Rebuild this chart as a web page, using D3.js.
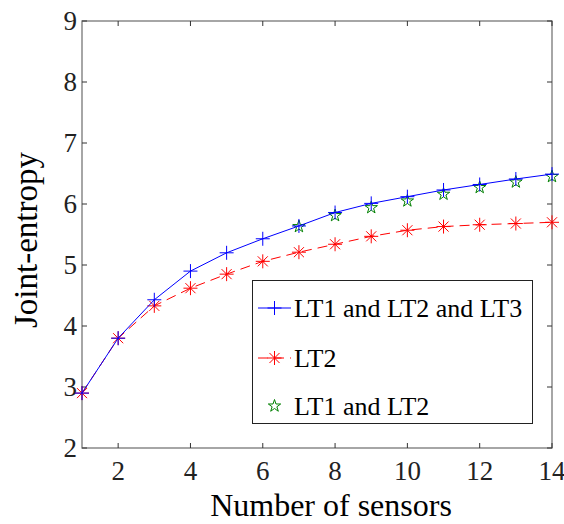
<!DOCTYPE html>
<meta charset="utf-8">
<script src="https://d3js.org/d3.v7.min.js"></script>
<style>
  body { margin: 0; background: #fff; }
  text { font-family: "Liberation Serif", "Times New Roman", serif; fill: #000; }
</style>
<svg id="chart" width="564" height="524"></svg>
<script>
    // data
    var sensors = [1, 2, 3, 4, 5, 6, 7, 8, 9, 10, 11, 12, 13, 14]
    var lt123 = [2.9, 3.8, 4.43, 4.9, 5.2, 5.43, 5.64, 5.86, 6.01, 6.12, 6.23, 6.32, 6.41, 6.49]
    var lt2 = [2.9, 3.8, 4.33, 4.62, 4.85, 5.06, 5.21, 5.34, 5.47, 5.57, 5.63, 5.66, 5.68, 5.7]
    var lt12Sensors = [7, 8, 9, 10, 11, 12, 13, 14]
    var lt12 = [5.63, 5.81, 5.94, 6.05, 6.16, 6.27, 6.36, 6.45]
    var xTicks = [2, 4, 6, 8, 10, 12, 14]
    var yTicks = [2, 3, 4, 5, 6, 7, 8, 9]
    var legendLabels = ["LT1 and LT2 and LT3", "LT2", "LT1 and LT2"]

    var svg = d3.select("#chart")
    var pLeft = 82, pRight = 552, pTop = 21, pBottom = 448

    var x = d3.scaleLinear().domain([1, 14]).range([pLeft, pRight])
    var y = d3.scaleLinear().domain([2, 9]).range([pBottom, pTop])

    var axisColor = "#777"
    var tickLen = 5

    // frame
    svg.append("rect")
        .attr("x", pLeft).attr("y", pTop)
        .attr("width", pRight - pLeft).attr("height", pBottom - pTop)
        .attr("fill", "none").attr("stroke", axisColor).attr("stroke-width", 1.3)

    // inward ticks on all four sides
    var g = svg.append("g").attr("stroke", "#333").attr("stroke-width", 1)
    xTicks.forEach(function(t) {
        g.append("line").attr("x1", x(t)).attr("x2", x(t)).attr("y1", pBottom).attr("y2", pBottom - tickLen)
        g.append("line").attr("x1", x(t)).attr("x2", x(t)).attr("y1", pTop).attr("y2", pTop + tickLen)
    })
    yTicks.forEach(function(t) {
        g.append("line").attr("x1", pLeft).attr("x2", pLeft + tickLen).attr("y1", y(t)).attr("y2", y(t))
        g.append("line").attr("x1", pRight).attr("x2", pRight - tickLen).attr("y1", y(t)).attr("y2", y(t))
    })

    // tick labels
    svg.selectAll(".xlab").data(xTicks).enter().append("text")
        .attr("x", function(d) { return x(d) })
        .attr("y", pBottom + 32)
        .attr("text-anchor", "middle")
        .style("font-size", "27px")
        .style("fill", "#222")
        .text(function(d) { return d })

    svg.selectAll(".ylab").data(yTicks).enter().append("text")
        .attr("x", pLeft - 5)
        .attr("y", function(d) { return y(d) + 9 })
        .attr("text-anchor", "end")
        .style("font-size", "27px")
        .style("fill", "#222")
        .text(function(d) { return d })

    // axis titles
    svg.append("text")
        .attr("x", 331)
        .attr("y", 516)
        .attr("text-anchor", "middle")
        .style("font-size", "32px")
        .text("Number of sensors")

    svg.append("text")
        .attr("transform", "translate(37,240) rotate(-90)")
        .attr("text-anchor", "middle")
        .style("font-size", "33px")
        .text("Joint-entropy")

    // marker shapes
    function plus(s) { return "M" + (-s) + ",0H" + s + "M0," + (-s) + "V" + s }
    function asterisk(s) {
        var d = s * 0.72
        return plus(s) + "M" + (-d) + "," + (-d) + "L" + d + "," + d + "M" + (-d) + "," + d + "L" + d + "," + (-d)
    }
    function pentagram(r) {
        var pts = []
        for (var i = 0; i < 10; i++) {
            var rr = i % 2 == 0 ? r : r * 0.382
            var a = -Math.PI / 2 + i * Math.PI / 5
            pts.push([rr * Math.cos(a), rr * Math.sin(a)])
        }
        return "M" + pts.join("L") + "Z"
    }

    var line = d3.line()
        .x(function(d) { return x(d[0]) })
        .y(function(d) { return y(d[1]) })

    var blueData = sensors.map(function(s, i) { return [s, lt123[i]] })
    var redData = sensors.map(function(s, i) { return [s, lt2[i]] })
    var greenData = lt12Sensors.map(function(s, i) { return [s, lt12[i]] })

    // LT2 (red dashed, asterisks)
    svg.append("path").datum(redData)
        .attr("d", line)
        .attr("fill", "none").attr("stroke", "#ff0000").attr("stroke-width", 1)
        .attr("stroke-dasharray", "10,6")
    svg.selectAll(".red").data(redData).enter().append("path")
        .attr("transform", function(d) { return "translate(" + x(d[0]) + "," + y(d[1]) + ")" })
        .attr("d", asterisk(7))
        .attr("fill", "none").attr("stroke", "#ff0000").attr("stroke-width", 1)

    // LT1 and LT2 (green stars only)
    svg.selectAll(".green").data(greenData).enter().append("path")
        .attr("transform", function(d) { return "translate(" + x(d[0]) + "," + y(d[1]) + ")" })
        .attr("d", pentagram(6.5))
        .attr("fill", "none").attr("stroke", "#008000").attr("stroke-width", 1)

    // LT1 and LT2 and LT3 (blue solid, plus)
    svg.append("path").datum(blueData)
        .attr("d", line)
        .attr("fill", "none").attr("stroke", "#0000ff").attr("stroke-width", 1)
    svg.selectAll(".blue").data(blueData).enter().append("path")
        .attr("transform", function(d) { return "translate(" + x(d[0]) + "," + y(d[1]) + ")" })
        .attr("d", plus(7))
        .attr("fill", "none").attr("stroke", "#0000ff").attr("stroke-width", 1)

    // legend
    var lg = svg.append("g")
    lg.append("rect")
        .attr("x", 252.5).attr("y", 280.5)
        .attr("width", 280).attr("height", 143)
        .attr("fill", "#fff").attr("stroke", "#222").attr("stroke-width", 1)

    var rowY = [308, 358, 406]
    var rowStyle = [
        { color: "#0000ff", line: true, dash: null, marker: plus(7) },
        { color: "#ff0000", line: true, dash: "10,6", marker: asterisk(7) },
        { color: "#008000", line: false, dash: null, marker: pentagram(6.5) }
    ]
    legendLabels.forEach(function(label, i) {
        var st = rowStyle[i]
        if (st.line) {
            lg.append("line")
                .attr("x1", 258).attr("x2", 291).attr("y1", rowY[i]).attr("y2", rowY[i])
                .attr("stroke", st.color).attr("stroke-width", 1)
                .attr("stroke-dasharray", st.dash)
        }
        lg.append("path")
            .attr("transform", "translate(274.5," + rowY[i] + ")")
            .attr("d", st.marker)
            .attr("fill", "none").attr("stroke", st.color).attr("stroke-width", 1)
        lg.append("text")
            .attr("x", 294).attr("y", rowY[i] + 9)
            .style("font-size", "26px")
            .text(label)
    })
</script>
